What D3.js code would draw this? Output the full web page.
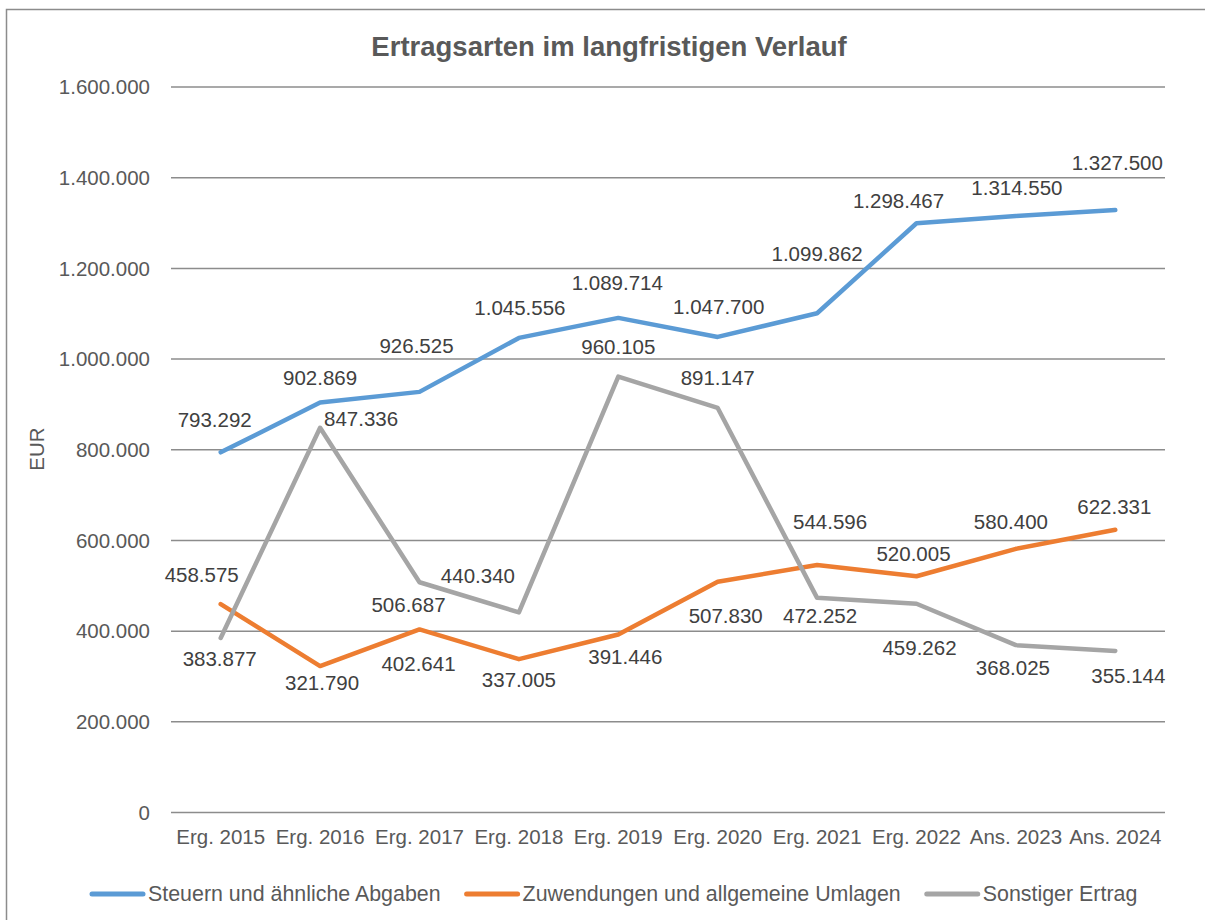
<!DOCTYPE html>
<html>
<head>
<meta charset="utf-8">
<script src="https://cdn.jsdelivr.net/npm/d3@7"></script>
<style>
  html, body { margin: 0; padding: 0; background: #fff; }
  svg { display: block; font-family: "Liberation Sans", Arial, sans-serif; }
</style>
</head>
<body>
<svg id="chart" width="1205" height="920"></svg>
<script>
// ---- Data ----
const categories = ["Erg. 2015", "Erg. 2016", "Erg. 2017", "Erg. 2018", "Erg. 2019",
                    "Erg. 2020", "Erg. 2021", "Erg. 2022", "Ans. 2023", "Ans. 2024"];
const steuern      = [793292, 902869, 926525, 1045556, 1089714, 1047700, 1099862, 1298467, 1314550, 1327500];
const zuwendungen  = [458575, 321790, 402641, 337005, 391446, 507830, 544596, 520005, 580400, 622331];
const sonstiger    = [383877, 847336, 506687, 440340, 960105, 891147, 472252, 459262, 368025, 355144];
const seriesNames  = ["Steuern und ähnliche Abgaben", "Zuwendungen und allgemeine Umlagen", "Sonstiger Ertrag"];
const yTicks       = [0, 200000, 400000, 600000, 800000, 1000000, 1200000, 1400000, 1600000];
const title = "Ertragsarten im langfristigen Verlauf";
const yTitle = "EUR";

// ---- Layout / style (not data) ----
const colors = ["#5B9BD5", "#ED7D31", "#A5A5A5"];
const labelOffsets = [
  [[-6,-32],[0,-25],[-3,-46],[1,-30],[-1,-35],[1,-30],[0,-59],[-18,-22],[1,-28],[2,-47]],
  [[-19,-29],[2,17],[-1,34],[0,21],[7,22],[8,34],[13,-43],[-3,-22],[-5,-27],[-1,-23]],
  [[-1,21],[41,-9],[-11,23],[-41,-37],[0,-30],[0,-30],[3,18],[3,44],[-3,23],[13,25]]
];
const plot = { left: 171, right: 1165, top: 86.5, bottom: 812 };
const fontSize = 20.5;
const legendFont = 21.4;

const de = d3.formatLocale({ decimal: ",", thousands: ".", grouping: [3], currency: ["", " €"] });
const fmt = de.format(",.0f");

const svg = d3.select("#chart");

// chart border
svg.append("rect")
  .attr("x", 6.5).attr("y", 9.5).attr("width", 1240).attr("height", 940)
  .attr("fill", "#fff").attr("stroke", "#8c8c8c").attr("stroke-width", 1.5);

const x = d3.scaleBand().domain(categories).range([plot.left, plot.right]).paddingInner(0).paddingOuter(0);
const y = d3.scaleLinear().domain([0, 1600000]).range([plot.bottom, plot.top]);
const cx = c => x(c) + x.bandwidth() / 2;

// y axis with gridlines
const yAxis = d3.axisLeft(y).tickValues(yTicks).tickFormat(fmt)
  .tickSize(-(plot.right - plot.left)).tickPadding(21);
const gy = svg.append("g").attr("transform", `translate(${plot.left},0)`).call(yAxis);
gy.select(".domain").remove();
gy.selectAll(".tick line").attr("stroke", "#8c8c8c").attr("stroke-width", 1.5);
gy.selectAll(".tick text").attr("fill", "#595959").attr("font-size", fontSize)
  .attr("font-family", "Liberation Sans, Arial, sans-serif").attr("dy", "0.35em");

// x axis labels
const xAxis = d3.axisBottom(x).tickSize(0).tickPadding(0);
const gx = svg.append("g").attr("transform", `translate(0,${plot.bottom})`).call(xAxis);
gx.select(".domain").remove();
gx.selectAll(".tick text").attr("fill", "#595959").attr("font-size", fontSize)
  .attr("font-family", "Liberation Sans, Arial, sans-serif").attr("dy", null).attr("y", 32);

// title
svg.append("text").attr("x", 609).attr("y", 56).attr("text-anchor", "middle")
  .attr("font-size", 27.5).attr("font-weight", "bold").attr("fill", "#595959").text(title);

// y title
svg.append("text").attr("transform", "translate(44,449) rotate(-90)").attr("text-anchor", "middle")
  .attr("font-size", fontSize).attr("fill", "#595959").text(yTitle);

// lines
const allSeries = [steuern, zuwendungen, sonstiger];
const line = d3.line().x((d, i) => cx(categories[i])).y(d => y(d));
allSeries.forEach((vals, s) => {
  svg.append("path").datum(vals).attr("d", line)
    .attr("fill", "none").attr("stroke", colors[s]).attr("stroke-width", 4.5)
    .attr("stroke-linejoin", "round").attr("stroke-linecap", "round");
});

// data labels
allSeries.forEach((vals, s) => {
  svg.append("g").selectAll("text").data(vals).join("text")
    .attr("x", (d, i) => cx(categories[i]) + labelOffsets[s][i][0])
    .attr("y", (d, i) => y(d) + labelOffsets[s][i][1])
    .attr("dy", "0.35em")
    .attr("text-anchor", "middle").attr("font-size", fontSize).attr("fill", "#404040")
    .text(d => fmt(d));
});

// legend
let lx = 90;
const ly = 894;
seriesNames.forEach((name, s) => {
  const g = svg.append("g");
  g.append("line").attr("x1", lx + 2).attr("x2", lx + 53).attr("y1", ly).attr("y2", ly)
    .attr("stroke", colors[s]).attr("stroke-width", 5).attr("stroke-linecap", "round");
  const t = g.append("text").attr("x", lx + 58).attr("y", ly).attr("dy", "0.35em")
    .attr("font-size", legendFont).attr("fill", "#595959").text(name);
  lx += 58 + t.node().getComputedTextLength() + 24;
});
</script>
</body>
</html>
